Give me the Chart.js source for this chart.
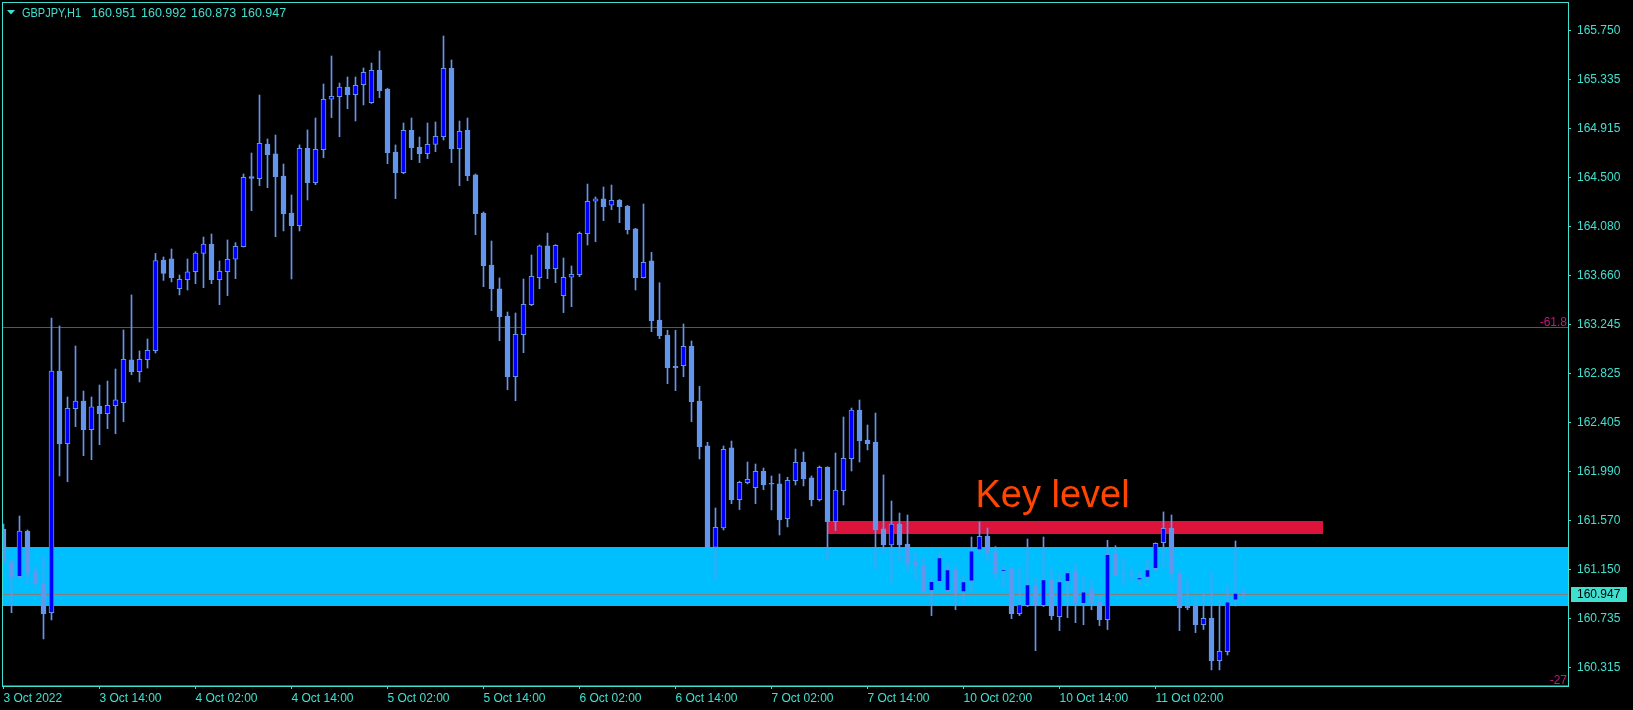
<!DOCTYPE html>
<html><head><meta charset="utf-8">
<script src="https://cdn.jsdelivr.net/npm/chart.js@4/dist/chart.umd.min.js"></script>
<style>html,body{margin:0;padding:0;background:#000;overflow:hidden}#wrap{width:1633px;height:710px}canvas{display:block}</style>
</head><body><div id="wrap"><canvas id="c" width="1633" height="710"></canvas></div>
<script>
const symbolTitle = 'GBPJPY,H1';
const headerOHLC = ['160.951', '160.992', '160.873', '160.947'];

const opens = [161.498,161.225,161.091,161.481,161.132,161.035,160.784,162.847,162.227,162.525,
162.591,162.346,162.548,162.483,162.551,162.577,162.941,162.841,162.943,163.020,
163.794,163.803,163.549,163.626,163.694,163.851,163.930,163.626,163.694,163.800,
163.908,164.505,164.488,164.784,164.699,164.511,164.195,164.087,164.748,164.454,
164.735,165.166,165.188,165.270,165.205,165.290,165.137,165.413,165.253,164.716,
164.540,164.901,164.756,164.702,164.781,164.847,165.430,164.744,164.901,164.520,
164.195,163.751,163.547,163.316,162.798,163.157,163.413,163.643,163.914,163.720,
163.490,163.647,163.669,164.018,164.295,164.315,164.261,164.306,164.255,164.059,
163.643,163.786,163.282,163.154,162.887,162.892,163.060,162.591,162.207,161.342,
161.507,162.190,161.749,161.894,161.851,161.991,161.886,161.883,161.586,161.911,
162.070,161.934,161.749,162.025,161.561,161.825,162.098,162.514,162.258,162.241,
161.499,161.362,161.541,161.370,161.217,161.191,160.972,161.049,160.972,161.151,
160.961,161.052,161.319,161.436,161.305,161.134,161.160,160.776,160.844,161.015,
160.844,161.066,160.750,161.049,161.132,160.862,160.978,160.878,160.725,161.288,
161.102,161.102,161.063,161.086,161.160,161.382,161.504,161.117,160.841,160.841,
160.682,160.739,160.375,160.451,160.890,160.951];

const highs = [161.541,161.240,161.609,161.490,161.177,161.268,163.299,163.231,162.625,163.060,
162.676,162.625,162.727,162.761,162.864,163.197,163.496,163.018,163.120,163.850,
163.820,163.888,163.666,163.803,163.865,163.990,164.016,163.786,163.965,163.942,
164.528,164.707,165.202,164.827,164.861,164.613,164.349,164.776,164.904,165.006,
165.296,165.535,165.304,165.356,165.356,165.433,165.475,165.578,165.260,164.776,
164.963,165.006,164.844,164.963,164.972,165.706,165.501,164.980,165.006,164.528,
164.204,163.956,163.641,163.350,163.342,163.632,163.837,163.922,164.024,163.925,
163.811,163.743,164.033,164.442,164.332,164.417,164.434,164.310,164.260,164.064,
164.272,163.860,163.600,163.194,163.194,163.248,163.103,162.716,162.238,161.678,
162.207,162.249,161.906,162.070,162.053,162.019,161.951,161.968,161.940,162.181,
162.155,161.951,162.036,162.030,162.147,162.454,162.531,162.599,162.386,162.488,
161.960,161.737,161.635,161.618,161.296,161.254,161.075,161.296,161.202,161.185,
161.092,161.430,161.558,161.507,161.348,161.185,161.165,161.168,161.413,161.077,
161.430,161.168,161.117,161.130,161.202,161.100,161.066,160.930,161.402,161.356,
161.245,161.168,161.134,161.236,161.380,161.644,161.618,161.151,161.066,160.912,
160.947,161.132,160.892,161.021,161.396,160.992];

const lows = [161.190,160.784,161.080,161.040,161.001,160.560,160.722,161.951,161.902,162.372,
162.124,162.090,162.218,162.355,162.312,162.414,162.815,162.753,162.872,163.000,
163.620,163.607,163.496,163.538,163.592,163.558,163.592,163.413,163.490,163.635,
163.905,164.215,164.428,164.411,163.993,164.042,163.632,164.042,164.306,164.437,
164.667,165.009,164.846,165.085,164.980,165.117,165.130,165.179,164.616,164.318,
164.530,164.650,164.625,164.659,164.718,164.818,164.625,164.428,164.471,164.010,
163.566,163.362,163.105,162.687,162.593,163.003,163.404,163.549,163.635,163.600,
163.345,163.396,163.652,163.922,163.950,164.130,164.224,164.112,164.016,163.538,
163.640,163.182,163.123,162.738,162.679,162.798,162.414,162.096,161.340,161.069,
161.490,161.714,161.664,161.883,161.714,161.834,161.661,161.447,161.516,161.874,
161.866,161.695,161.737,161.240,161.484,161.703,161.993,162.070,162.173,161.157,
161.296,161.029,161.219,161.143,161.072,160.950,160.759,161.045,160.968,160.810,
160.873,160.961,161.291,161.219,161.066,161.006,160.733,160.759,160.836,160.460,
160.836,160.725,160.631,160.742,160.699,160.681,160.810,160.674,160.640,161.098,
161.015,161.049,161.015,161.052,161.143,161.177,161.049,160.631,160.810,160.614,
160.640,160.296,160.296,160.423,160.841,160.873];

const closes = [161.225,161.091,161.481,161.126,161.029,160.773,162.847,162.224,162.529,162.591,
162.346,162.540,162.483,162.554,162.600,162.947,162.841,162.947,163.024,163.790,
163.680,163.643,163.629,163.692,163.854,163.930,163.626,163.698,163.800,163.911,
164.500,164.490,164.790,164.693,164.505,164.187,164.087,164.748,164.454,164.739,
165.166,165.191,165.270,165.205,165.285,165.396,165.413,165.239,164.710,164.540,
164.901,164.753,164.702,164.781,164.850,165.430,164.744,164.892,164.514,164.189,
163.745,163.549,163.310,162.798,163.160,163.416,163.655,163.914,163.720,163.919,
163.647,163.672,164.022,164.295,164.315,164.249,164.304,164.249,164.053,163.643,
163.775,163.276,163.148,162.875,162.875,163.058,162.585,162.201,161.342,161.513,
162.179,161.746,161.897,161.923,161.991,161.874,161.880,161.575,161.914,162.068,
161.925,161.749,162.025,161.561,161.831,162.102,162.514,162.250,162.226,161.490,
161.362,161.541,161.362,161.206,161.189,160.963,161.052,161.254,161.151,160.952,
161.049,161.313,161.436,161.296,161.126,161.151,160.776,160.853,161.023,160.844,
161.066,160.759,161.049,161.126,160.862,160.963,160.870,160.725,161.283,161.100,
161.098,161.098,161.083,161.151,161.376,161.504,161.117,160.827,160.827,160.682,
160.736,160.375,160.455,160.876,160.951,160.947];

const xTickIndex = [0, 12, 24, 36, 48, 60, 72, 84, 96, 108, 120, 132, 144];
const xTickLabels = ['3 Oct 2022','3 Oct 14:00','4 Oct 02:00','4 Oct 14:00','5 Oct 02:00','5 Oct 14:00',
  '6 Oct 02:00','6 Oct 14:00','7 Oct 02:00','7 Oct 14:00','10 Oct 02:00','10 Oct 14:00','11 Oct 02:00'];
const yTickValues = [165.750,165.335,164.915,164.500,164.080,163.660,163.245,162.825,162.405,161.990,161.570,161.150,160.735,160.315];

const zoneLow = 160.845, zoneHigh = 161.345;          // support zone (price)
const keyLow = 161.456, keyHigh = 161.567;            // key level band (price)
const keyStart = 103, keyEnd = 165;                   // key level band (bar index)
const keyText = 'Key level', keyTextBar = 121.5, keyTextPrice = 161.686;
const fibLevels = [163.222, 160.170];
const fibLabels = ['-61.8', '-27'];
const bidPrice = 160.947;

const FG = '#40E0D0';
const BULL = '#0000FF', BEAR = '#6495ED';
const FONT = '"Liberation Sans", Arial, sans-serif';
Chart.defaults.font.family = FONT;
Chart.defaults.font.size = 12;

const bodies = opens.map((o, i) => ({x: i, y: [Math.min(o, closes[i]), Math.max(o, closes[i])]}));
const wicks = lows.map((l, i) => ({x: i, y: [l, highs[i]]}));
const bodyFill = opens.map((o, i) => closes[i] >= o ? BULL : BEAR);

const overlay = {
  id: 'overlay',
  beforeDatasetsDraw(chart) {
    const {ctx, chartArea: a, scales: {x, y}} = chart;
    ctx.save();
    ctx.beginPath(); ctx.rect(a.left, a.top, a.right - a.left, a.bottom - a.top); ctx.clip();
    const zt = Math.round(y.getPixelForValue(zoneHigh)), zb = Math.round(y.getPixelForValue(zoneLow));
    ctx.fillStyle = '#00BFFF';
    ctx.fillRect(a.left, zt, a.right - a.left, zb - zt);
    const kt = Math.round(y.getPixelForValue(keyHigh)), kb = Math.round(y.getPixelForValue(keyLow));
    const kl = Math.round(x.getPixelForValue(keyStart) - 0.5), kr = Math.round(x.getPixelForValue(keyEnd) - 0.5);
    ctx.fillStyle = '#DC143C';
    ctx.fillRect(kl, kt, kr - kl, kb - kt);
    ctx.fillStyle = '#C71585';
    fibLevels.forEach(v => { ctx.fillRect(a.left, Math.round(y.getPixelForValue(v)), a.right - a.left, 1); });
    ctx.fillStyle = '#808080';
    ctx.fillRect(a.left, Math.round(y.getPixelForValue(bidPrice)), a.right - a.left, 1);
    ctx.restore();
  },
  afterDraw(chart) {
    const {ctx, chartArea: a, scales: {x, y}} = chart;
    ctx.save();
    ctx.fillStyle = '#FF4500';
    ctx.font = '38px ' + FONT;
    ctx.textAlign = 'left'; ctx.textBaseline = 'alphabetic';
    ctx.fillText(keyText, x.getPixelForValue(keyTextBar), y.getPixelForValue(keyTextPrice));
    ctx.fillStyle = '#C71585';
    ctx.font = '12px ' + FONT;
    ctx.textAlign = 'right';
    fibLevels.forEach((v, k) => ctx.fillText(fibLabels[k], a.right - 1, Math.round(y.getPixelForValue(v)) - 1));
    ctx.strokeStyle = FG; ctx.lineWidth = 1;
    ctx.strokeRect(a.left + 0.5, a.top + 0.5, a.right - a.left, a.bottom - a.top);
    ctx.fillStyle = FG;
    ctx.beginPath(); ctx.moveTo(7, 10); ctx.lineTo(15, 10); ctx.lineTo(11, 14.5); ctx.closePath(); ctx.fill();
    ctx.textAlign = 'left';
    ctx.font = '12.5px ' + FONT;
    ctx.fillText(symbolTitle, 22, 17, 59);
    headerOHLC.forEach((t, k) => ctx.fillText(t, 91 + 50 * k, 17));
    const by = Math.round(y.getPixelForValue(bidPrice));
    ctx.font = '12px ' + FONT;
    ctx.fillStyle = FG;
    ctx.fillRect(a.right + 3, by - 7, 56, 15);
    ctx.fillStyle = '#000';
    ctx.textBaseline = 'middle';
    ctx.fillText(bidPrice.toFixed(3), a.right + 9, by + 1);
    ctx.restore();
  }
};

new Chart(document.getElementById('c'), {
  type: 'bar',
  data: {
    datasets: [
      {label: 'body', data: bodies, backgroundColor: bodyFill, borderColor: BEAR, borderWidth: 1,
       borderSkipped: false, barThickness: 5, grouped: false, order: 1, minBarLength: 1},
      {label: 'wick', data: wicks, backgroundColor: BEAR, borderWidth: 0,
       barThickness: 1, grouped: false, order: 2}
    ]
  },
  options: {
    responsive: false, animation: false, devicePixelRatio: 1,
    layout: {padding: {left: 2, top: 2, right: 0, bottom: 0}},
    plugins: {legend: {display: false}, tooltip: {enabled: false}},
    scales: {
      x: {
        type: 'linear', min: -0.1875, max: 195.5625, offset: false,
        grid: {offset: false, drawOnChartArea: false, drawTicks: true, tickLength: 3, color: FG},
        border: {display: false},
        afterBuildTicks: s => { s.ticks = xTickIndex.map(v => ({value: v})); },
        afterFit: s => { s.height = 24; s.paddingLeft = 0; s.paddingRight = 0; },
        ticks: {
          autoSkip: false, maxRotation: 0, minRotation: 0, align: 'start', padding: 2, color: FG,
          font: {size: 12, family: FONT},
          callback: v => { const k = xTickIndex.indexOf(v); return k >= 0 ? xTickLabels[k] : ''; }
        }
      },
      y: {
        position: 'right', min: 160.1584, max: 165.9958, beginAtZero: false,
        grid: {drawOnChartArea: false, drawTicks: true, tickLength: 3, color: FG},
        border: {display: false},
        afterBuildTicks: s => { s.ticks = yTickValues.map(v => ({value: v})); },
        afterFit: s => { s.width = 65; s.paddingTop = 0; s.paddingBottom = 0; },
        ticks: {color: FG, padding: 6, font: {size: 12, family: FONT}, callback: v => v.toFixed(3)}
      }
    }
  },
  plugins: [overlay]
});
</script>
</body></html>
